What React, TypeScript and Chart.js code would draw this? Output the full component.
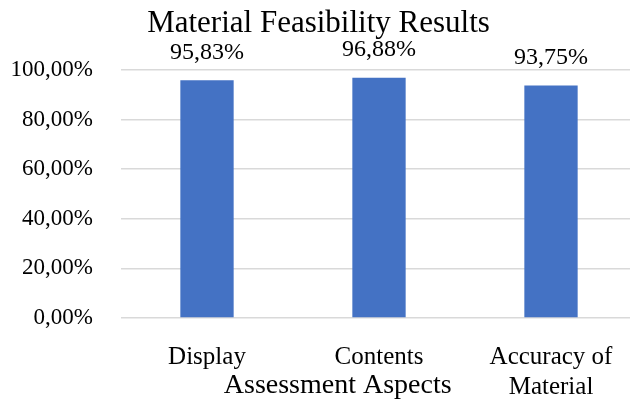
import { useEffect, useRef } from "react";
import { Chart, registerables } from "chart.js";

Chart.register(...registerables);

// Assessment aspects and their feasibility scores (percent)
const categories: (string | string[])[] = ["Display", "Contents", ["Accuracy of", "Material"]];
const values = [95.83, 96.88, 93.75];
const yTicks = [0, 20, 40, 60, 80, 100];

const chartTitle = "Material Feasibility Results";
const xAxisTitle = "Assessment Aspects";

const FONT = "'Liberation Serif', 'Times New Roman', serif";
const BAR_COLOR = "#4472C4";

const fmt = (v: number) => v.toFixed(2).replace(".", ",") + "%";

// Writes each bar's value above it
const valueLabels = {
  id: "valueLabels",
  afterDatasetsDraw(chart: any) {
    const ctx = chart.ctx;
    const meta = chart.getDatasetMeta(0);
    ctx.save();
    ctx.font = `24px ${FONT}`;
    ctx.fillStyle = "#000";
    ctx.textAlign = "center";
    ctx.textBaseline = "middle";
    meta.data.forEach((bar: any, i: number) => {
      ctx.fillText(fmt(values[i]), bar.x, bar.y - 28);
    });
    ctx.restore();
  },
};

// Category-axis title, sitting beside the second label line
const axisTitle = {
  id: "axisTitle",
  afterDraw(chart: any) {
    const { ctx, chartArea } = chart;
    ctx.save();
    ctx.font = `28px ${FONT}`;
    ctx.fillStyle = "#000";
    ctx.textAlign = "center";
    ctx.textBaseline = "middle";
    ctx.fillText(xAxisTitle, chartArea.left + chartArea.width * 0.42, chart.height - 13);
    ctx.restore();
  },
};

export default function App() {
  const ref = useRef<HTMLCanvasElement>(null);

  useEffect(() => {
    if (!ref.current) return;
    const chart = new Chart(ref.current, {
      type: "bar",
      data: {
        labels: categories as any,
        datasets: [
          {
            data: values,
            backgroundColor: BAR_COLOR,
            barPercentage: 0.31,
            categoryPercentage: 1,
          },
        ],
      },
      options: {
        responsive: false,
        animation: false,
        devicePixelRatio: 1,
        layout: { padding: 0 },
        plugins: {
          legend: { display: false },
          tooltip: { enabled: false },
          title: {
            display: true,
            text: chartTitle,
            color: "#000",
            font: { family: FONT, size: 31, weight: "normal", lineHeight: 1.2 },
            padding: { top: 5, bottom: 27.8 },
          },
        },
        scales: {
          x: {
            grid: { display: false },
            border: { display: false },
            ticks: {
              color: "#000",
              font: { family: FONT, size: 25, lineHeight: 1.2 },
              padding: 16,
              maxRotation: 0,
              autoSkip: false,
            },
            afterFit: (s: any) => {
              s.height = 81;
            },
          },
          y: {
            min: 0,
            max: 100,
            afterBuildTicks: (s: any) => {
              s.ticks = yTicks.map((v) => ({ value: v }));
            },
            grid: { color: "#d9d9d9", lineWidth: 1.5, drawTicks: false },
            border: { display: false },
            ticks: {
              color: "#000",
              font: { family: FONT, size: 23 },
              padding: 28,
              callback: (v: any) => fmt(Number(v)),
            },
            afterFit: (s: any) => {
              s.width = 121;
            },
          },
        },
      },
      plugins: [valueLabels, axisTitle],
    });
    return () => chart.destroy();
  }, []);

  return (
    <div
      style={{
        position: "fixed",
        left: 0,
        top: 0,
        width: 630,
        height: 399,
        overflow: "hidden",
        background: "#fff",
      }}
    >
      <canvas ref={ref} width={637} height={399} style={{ display: "block" }} />
    </div>
  );
}
